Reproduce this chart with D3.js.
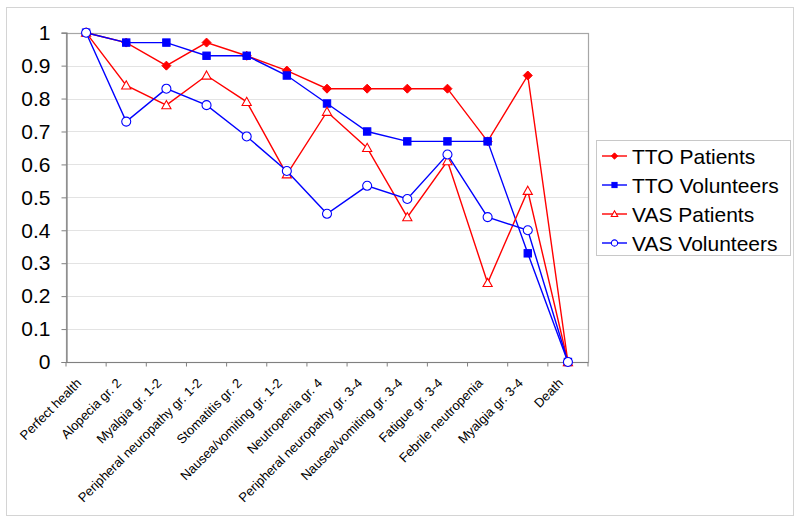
<!DOCTYPE html>
<html>
<head>
<meta charset="utf-8">
<script src="https://cdn.jsdelivr.net/npm/d3@7"></script>
<style>
  body { margin: 0; background: #fff; }
  svg text { font-family: Arial, "Liberation Sans", sans-serif; }
</style>
</head>
<body>
<div id="chart"></div>
<script>
var width = 800;
var height = 522;

var categories = ["Perfect health", "Alopecia gr. 2", "Myalgia gr. 1-2", "Peripheral neuropathy gr. 1-2",
  "Stomatitis gr. 2", "Nausea/vomiting gr. 1-2", "Neutropenia gr. 4", "Peripheral neuropathy gr. 3-4",
  "Nausea/vomiting gr. 3-4", "Fatigue gr. 3-4", "Febrile neutropenia", "Myalgia gr. 3-4", "Death"];

var ttoPatients   = [1, 0.97, 0.90, 0.97, 0.93, 0.885, 0.83, 0.83, 0.83, 0.83, 0.67, 0.87, 0];
var ttoVolunteers = [1, 0.97, 0.97, 0.93, 0.93, 0.87, 0.785, 0.70, 0.67, 0.67, 0.67, 0.33, 0];
var vasPatients   = [1, 0.84, 0.78, 0.87, 0.79, 0.57, 0.76, 0.65, 0.44, 0.61, 0.24, 0.52, 0];
var vasVolunteers = [1, 0.73, 0.83, 0.78, 0.685, 0.58, 0.45, 0.535, 0.495, 0.63, 0.44, 0.40, 0];

var seriesNames = ["TTO Patients", "TTO Volunteers", "VAS Patients", "VAS Volunteers"];
var yTicks = [0, 0.1, 0.2, 0.3, 0.4, 0.5, 0.6, 0.7, 0.8, 0.9, 1];

var series = [
  {name: seriesNames[0], values: ttoPatients,   color: "#ff0000", marker: "diamond"},
  {name: seriesNames[1], values: ttoVolunteers, color: "#0000ff", marker: "square"},
  {name: seriesNames[2], values: vasPatients,   color: "#ff0000", marker: "triangle"},
  {name: seriesNames[3], values: vasVolunteers, color: "#0000ff", marker: "circle"}
];

var plot = {left: 66, right: 588, top: 32.7, bottom: 362};

var svg = d3.select("#chart")
  .append("svg")
  .attr("width", width)
  .attr("height", height);

// outer chart frame
svg.append("rect")
  .attr("x", 6.5).attr("y", 7.5)
  .attr("width", 787).attr("height", 508)
  .style("fill", "white")
  .style("stroke", "#d4d4d4")
  .style("stroke-width", 1);

var x = d3.scaleBand()
  .domain(categories)
  .range([plot.left, plot.right]);

var y = d3.scaleLinear()
  .domain([0, 1])
  .range([plot.bottom, plot.top]);

function cx(i) { return x(categories[i]) + x.bandwidth() / 2; }

// gridlines
svg.append("g")
  .selectAll("line")
  .data(yTicks.filter(function(d) { return d > 0 && d < 1; }))
  .enter()
  .append("line")
  .attr("x1", plot.left).attr("x2", plot.right)
  .attr("y1", function(d) { return Math.round(y(d)) + 0.5; })
  .attr("y2", function(d) { return Math.round(y(d)) + 0.5; })
  .style("stroke", "#e3e3e3")
  .style("stroke-width", 1);

// plot frame (top / right in grey)
svg.append("rect")
  .attr("x", plot.left + 0.5).attr("y", Math.round(plot.top) + 0.5)
  .attr("width", plot.right - plot.left)
  .attr("height", Math.round(plot.bottom) - Math.round(plot.top))
  .style("fill", "none")
  .style("stroke", "#a6a6a6")
  .style("stroke-width", 1.2);

// y axis
var yAxis = svg.append("g")
  .attr("transform", "translate(" + (plot.left + 0.5) + ",0)")
  .call(d3.axisLeft(y).tickValues(yTicks).tickSize(5).tickPadding(11)
    .tickFormat(function(d) { return d3.format("")(+d.toFixed(1)); }));
yAxis.select(".domain").style("stroke", "#808080").style("stroke-width", 1.2);
yAxis.selectAll(".tick line").style("stroke", "#808080");
yAxis.selectAll("text")
  .style("font-size", "21px")
  .style("fill", "#000");

// x axis
var xAxisG = svg.append("g")
  .attr("transform", "translate(0," + (Math.round(plot.bottom) + 0.5) + ")");
xAxisG.append("line")
  .attr("x1", plot.left).attr("x2", plot.right)
  .style("stroke", "#808080").style("stroke-width", 1.2);
xAxisG.selectAll(".xtick")
  .data(categories.concat(["end"]))
  .enter()
  .append("line")
  .attr("class", "xtick")
  .attr("x1", function(d, i) { return plot.left + i * x.bandwidth(); })
  .attr("x2", function(d, i) { return plot.left + i * x.bandwidth(); })
  .attr("y1", 0).attr("y2", 4)
  .style("stroke", "#808080");

svg.append("g")
  .selectAll("text")
  .data(categories)
  .enter()
  .append("text")
  .attr("transform", function(d, i) {
    return "translate(" + (cx(i) - 4) + "," + 384 + ") rotate(-45)";
  })
  .attr("text-anchor", "end")
  .style("font-size", "13px")
  .style("fill", "#000")
  .text(function(d) { return d; });

// markers
function drawMarker(g, type, color, size) {
  var s = size || 1;
  if (type === "diamond") {
    g.append("path")
      .attr("d", "M0," + (-4.5 * s) + "L" + (4.5 * s) + ",0L0," + (4.5 * s) + "L" + (-4.5 * s) + ",0Z")
      .style("fill", color).style("stroke", color);
  } else if (type === "square") {
    g.append("rect")
      .attr("x", -3.7 * s).attr("y", -3.7 * s)
      .attr("width", 7.4 * s).attr("height", 7.4 * s)
      .style("fill", color).style("stroke", color);
  } else if (type === "triangle") {
    g.append("path")
      .attr("d", "M0," + (-4.6 * s) + "L" + (4.6 * s) + "," + (3.6 * s) + "L" + (-4.6 * s) + "," + (3.6 * s) + "Z")
      .style("fill", "white").style("stroke", color).style("stroke-width", 1.1);
  } else {
    g.append("circle")
      .attr("r", 4.5 * s)
      .style("fill", "white").style("stroke", color).style("stroke-width", 1.1);
  }
}

var line = d3.line()
  .x(function(d, i) { return cx(i); })
  .y(function(d) { return y(d); });

series.forEach(function(s) {
  var g = svg.append("g");
  g.append("path")
    .attr("d", line(s.values))
    .style("fill", "none")
    .style("stroke", s.color)
    .style("stroke-width", 1.4);
  s.values.forEach(function(v, i) {
    var m = g.append("g").attr("transform", "translate(" + cx(i) + "," + y(v) + ")");
    drawMarker(m, s.marker, s.color);
  });
});

// legend
var legend = svg.append("g");
legend.append("rect")
  .attr("x", 596.5).attr("y", 140.5)
  .attr("width", 194).attr("height", 115)
  .style("fill", "white")
  .style("stroke", "#c8c8c8");

series.forEach(function(s, i) {
  var ly = 156 + i * 29;
  var lg = legend.append("g");
  lg.append("line")
    .attr("x1", 602).attr("x2", 627)
    .attr("y1", ly).attr("y2", ly)
    .style("stroke", s.color).style("stroke-width", 1.4);
  var m = lg.append("g").attr("transform", "translate(614.5," + ly + ")");
  drawMarker(m, s.marker, s.color, 0.7);
  lg.append("text")
    .attr("x", 632).attr("y", ly + 7.5)
    .style("font-size", "21px")
    .style("fill", "#000")
    .text(s.name);
});
</script>
</body>
</html>
